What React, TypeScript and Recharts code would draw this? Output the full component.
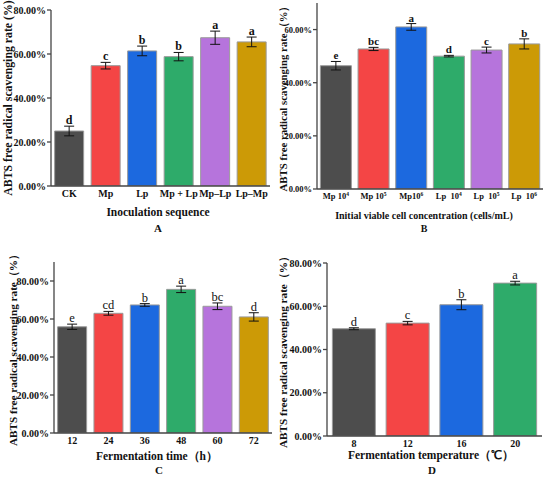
import React from 'react';
import { BarChart, Bar, XAxis, YAxis, Cell, ErrorBar, LabelList } from 'recharts';

const COLORS = ['#4d4d4d', '#f44545', '#1c69df', '#2eab6a', '#b674dc', '#cc9a06'];
const FONT = '"Liberation Serif", "Times New Roman", serif';
const Y_TITLE = 'ABTS free radical scavenging rate (%)';
const Y_TITLE_CN = 'ABTS free radical scavenging rate（%）';

// A: inoculation sequence
const catsA = ['CK', 'Mp', 'Lp', 'Mp + Lp', 'Mp–Lp', 'Lp–Mp'];
const valsA = [25.0, 54.7, 61.4, 58.8, 67.4, 65.5];
const errsA = [2.2, 1.5, 2.2, 1.9, 3.0, 2.2];
const letA = ['d', 'c', 'b', 'b', 'a', 'a'];
const ticksA = [0, 20, 40, 60, 80];

// B: initial viable cell concentration ("^" marks the superscript)
const catsB = ['Mp 10^4', 'Mp 10^5', 'Mp10^6', 'Lp\u00a0 10^4', 'Lp\u00a0 10^5', 'Lp\u00a0 10^6'];
const valsB = [46.4, 52.7, 61.0, 50.0, 52.3, 54.6];
const errsB = [1.6, 0.6, 1.25, 0.3, 1.1, 1.9];
const letB = ['e', 'bc', 'a', 'd', 'c', 'b'];
const ticksB = [0, 20, 40, 60];

// C: fermentation time
const catsC = ['12', '24', '36', '48', '60', '72'];
const valsC = [55.9, 63.0, 67.4, 75.6, 66.7, 61.1];
const errsC = [1.4, 1.0, 0.7, 1.7, 1.75, 2.2];
const letC = ['e', 'cd', 'b', 'a', 'bc', 'd'];
const ticksC = [0, 20, 40, 60, 80];

// D: fermentation temperature
const catsD = ['8', '12', '16', '20'];
const valsD = [49.6, 52.2, 60.7, 70.7];
const errsD = [0.45, 0.8, 2.3, 0.85];
const letD = ['d', 'c', 'b', 'a'];
const ticksD = [0, 20, 40, 60, 80];

type PanelProps = {
  cats: string[];
  vals: number[];
  errs: number[];
  letters: string[];
  ticks: number[];
  domainMax: number;
  left: number;
  top: number;
  width: number;
  height: number;
  margin: { top: number; right: number; left: number; bottom: number };
  yWidth: number;
  xHeight: number;
  tickFont: number;
  letterFont: number;
  letterBold: boolean;
  yTitle: string;
  yTitleX: number;
  yTitleFont: number;
  gap: string;
};

function Panel(p: PanelProps) {
  const data = p.cats.map((c, i) => ({ name: c, value: p.vals[i], err: p.errs[i] }));

  const letterContent = (props: any) => {
    const vb = props.viewBox ?? props;
    const x = vb.x ?? props.x;
    const y = vb.y ?? props.y;
    const w = vb.width ?? props.width;
    const h = vb.height ?? props.height;
    const i = props.index;
    const errPx = (p.errs[i] * Math.abs(h)) / p.vals[i];
    return (
      <text
        x={x + w / 2}
        y={y - errPx - 2}
        textAnchor="middle"
        fontFamily={FONT}
        fontSize={p.letterFont}
        fontWeight={p.letterBold ? 'bold' : 'normal'}
        fill="#111"
      >
        {p.letters[i]}
      </text>
    );
  };

  const yLabel = (props: any) => {
    const vb = props.viewBox;
    const cy = vb.y + vb.height / 2;
    return (
      <text
        x={p.yTitleX}
        y={cy}
        transform={`rotate(-90, ${p.yTitleX}, ${cy})`}
        textAnchor="middle"
        dominantBaseline="central"
        fontFamily={FONT}
        fontWeight="bold"
        fontSize={p.yTitleFont}
        fill="#111"
      >
        {p.yTitle}
      </text>
    );
  };

  const xTick = (props: any) => {
    const { x, y, payload } = props;
    const [base, sup] = String(payload.value).split('^');
    return (
      <text
        x={x}
        y={y + 4}
        dy="0.71em"
        textAnchor="middle"
        fontFamily={FONT}
        fontWeight="bold"
        fontSize={p.tickFont}
        fill="#111"
      >
        {base}
        {sup && (
          <tspan fontSize={p.tickFont * 0.65} dy={-p.tickFont * 0.4}>
            {sup}
          </tspan>
        )}
      </text>
    );
  };

  return (
    <div style={{ position: 'absolute', left: p.left, top: p.top }}>
      <BarChart width={p.width} height={p.height} data={data} margin={p.margin} barCategoryGap={p.gap}>
        <XAxis
          dataKey="name"
          height={p.xHeight}
          tickLine={false}
          tickSize={0}
          tickMargin={0}
          interval={0}
          axisLine={{ stroke: '#444', strokeWidth: 1.3 }}
          tick={xTick}
        />
        <YAxis
          width={p.yWidth}
          domain={[0, p.domainMax]}
          ticks={p.ticks}
          allowDataOverflow
          tickSize={4}
          tickMargin={1}
          axisLine={{ stroke: '#444', strokeWidth: 1.3 }}
          tickLine={{ stroke: '#444', strokeWidth: 1.3 }}
          tickFormatter={(v: number) => `${v.toFixed(2)}%`}
          tick={{ fill: '#111', fontFamily: FONT, fontWeight: 'bold', fontSize: p.tickFont }}
          label={yLabel}
        />
        <Bar dataKey="value" stroke="#9a9a9a" strokeWidth={1} isAnimationActive={false}>
          {data.map((d, i) => (
            <Cell key={d.name} fill={COLORS[i]} />
          ))}
          <ErrorBar dataKey="err" width={5} stroke="#111" strokeWidth={1} isAnimationActive={false} />
          <LabelList dataKey="value" content={letterContent} />
        </Bar>
      </BarChart>
    </div>
  );
}

function Caption({ x, y, size, children }: { x: number; y: number; size: number; children: React.ReactNode }) {
  return (
    <div
      style={{
        position: 'absolute',
        left: x,
        top: y,
        transform: 'translate(-50%, -50%)',
        whiteSpace: 'nowrap',
        fontFamily: FONT,
        fontWeight: 'bold',
        fontSize: size,
        color: '#111',
        lineHeight: 1,
      }}
    >
      {children}
    </div>
  );
}

export default function App() {
  return (
    <div style={{ position: 'absolute', left: 0, top: 0, width: 550, height: 478, background: '#fff', overflow: 'hidden' }}>
      <Panel
        cats={catsA} vals={valsA} errs={errsA} letters={letA} ticks={ticksA} domainMax={80}
        left={0} top={0} width={275} height={240}
        margin={{ top: 10, right: 5, left: 0, bottom: 0 }} yWidth={51} xHeight={54}
        tickFont={10} letterFont={12} letterBold yTitle={Y_TITLE} yTitleX={8} yTitleFont={11.8} gap="10%"
      />
      <Panel
        cats={catsB} vals={valsB} errs={errsB} letters={letB} ticks={ticksB} domainMax={70}
        left={275} top={0} width={275} height={240}
        margin={{ top: 3, right: 7, left: 0, bottom: 0 }} yWidth={42} xHeight={51}
        tickFont={8.5} letterFont={11} letterBold yTitle={Y_TITLE_CN} yTitleX={8} yTitleFont={10.8} gap="9%"
      />
      <Panel
        cats={catsC} vals={valsC} errs={errsC} letters={letC} ticks={ticksC} domainMax={90}
        left={0} top={240} width={275} height={238}
        margin={{ top: 22, right: 3, left: 0, bottom: 0 }} yWidth={54} xHeight={45}
        tickFont={10} letterFont={12.5} letterBold={false} yTitle={Y_TITLE_CN} yTitleX={13} yTitleFont={11.2} gap="10%"
      />
      <Panel
        cats={catsD} vals={valsD} errs={errsD} letters={letD} ticks={ticksD} domainMax={80}
        left={275} top={240} width={275} height={238}
        margin={{ top: 23, right: 8, left: 0, bottom: 0 }} yWidth={52} xHeight={42}
        tickFont={10} letterFont={12.5} letterBold={false} yTitle={Y_TITLE_CN} yTitleX={8} yTitleFont={11.2} gap="10%"
      />
      <Caption x={158} y={213} size={11.5}>Inoculation sequence</Caption>
      <Caption x={158} y={228} size={11}>A</Caption>
      <Caption x={424} y={216} size={10}>Initial viable cell concentration (cells/mL)</Caption>
      <Caption x={424} y={229} size={10}>B</Caption>
      <Caption x={157} y={457} size={11.5}>Fermentation time（h）</Caption>
      <Caption x={159} y={470} size={11}>C</Caption>
      <Caption x={431} y={456} size={11.5}>Fermentation temperature（℃）</Caption>
      <Caption x={432} y={470} size={11}>D</Caption>
    </div>
  );
}
